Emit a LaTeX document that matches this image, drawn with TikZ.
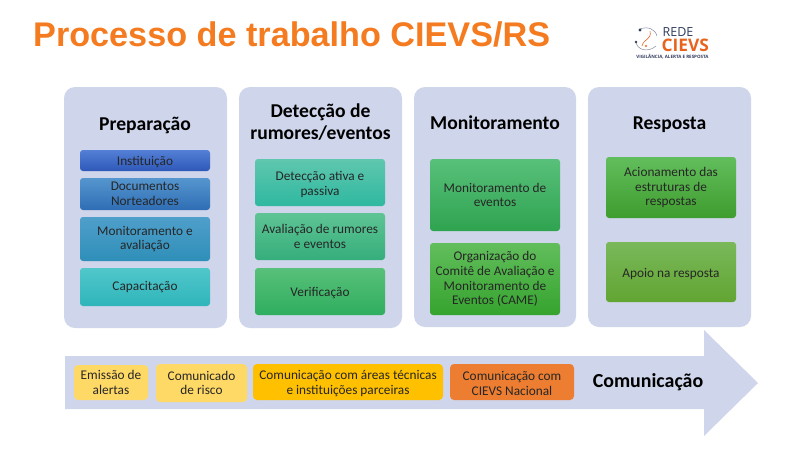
\documentclass[tikz,border=0pt]{standalone}
\usepackage{fontspec}
\setmainfont{Carlito}
\newfontfamily\headfont{Liberation Sans}
\newfontfamily\logofont{Open Sans}
\definecolor{panel}{HTML}{CFD5EA}
\definecolor{heador}{HTML}{F47B20}
\definecolor{boxor}{HTML}{ED7D31}
\definecolor{logonavy}{HTML}{2F3A5C}
\definecolor{logoor}{HTML}{E8641E}
\definecolor{yel}{HTML}{FFD966}
\definecolor{amb}{HTML}{FFC000}
\definecolor{HighA}{HTML}{5480D6}\definecolor{LowA}{HTML}{2E58B8}
\definecolor{HighB}{HTML}{5596CE}\definecolor{LowB}{HTML}{2F6DB5}
\definecolor{HighC}{HTML}{4F9FCB}\definecolor{LowC}{HTML}{2E8FB8}
\definecolor{HighD}{HTML}{50C7CB}\definecolor{LowD}{HTML}{2FB5BA}
\definecolor{HighE}{HTML}{5FC7AE}\definecolor{LowE}{HTML}{2FB8A0}
\definecolor{HighF}{HTML}{5FC495}\definecolor{LowF}{HTML}{35AE7B}
\definecolor{HighG}{HTML}{58C07A}\definecolor{LowG}{HTML}{2FAE5E}
\definecolor{LowH}{HTML}{2FA350}
\definecolor{HighI}{HTML}{62BE5C}\definecolor{LowI}{HTML}{35A32E}
\definecolor{LowJ}{HTML}{3F9C2E}
\definecolor{HighK}{HTML}{7AB85A}\definecolor{LowK}{HTML}{62A532}
\tikzset{
 panelbox/.style={fill=panel,rounded corners=11pt,draw=none,inner sep=0pt},
 inner/.style={rounded corners=3pt,draw=none,align=center,text=black!85,font=\fontsize{13.3}{14.7}\selectfont,inner sep=0pt},
 flat/.style={rounded corners=4pt,draw=none,align=center,text=black!85,font=\fontsize{13.3}{14.7}\selectfont,inner sep=0pt},
 head/.style={align=center,text=black,font=\bfseries\fontsize{19.6}{22}\selectfont,inner sep=0pt},
 headb/.style={head,anchor=base},
}
\newcommand{\gbox}[8]{%
 \node[inner,top color=#6,bottom color=#7,minimum width={(#4-#2)*1pt},minimum height={(#5-#3)*1pt}] (#1) at ({(#2+#4)/2},{-(#3+#5)/2}) {#8};}
\newcommand{\plainbox}[7]{%
 \node[flat,fill=#6,minimum width={(#4-#2)*1pt},minimum height={(#5-#3)*1pt}] (#1) at ({(#2+#4)/2},{-(#3+#5)/2}) {#7};}
\newcommand{\panelb}[5]{%
 \node[panelbox,minimum width={(#4-#2)*1pt},minimum height={(#5-#3)*1pt}] (#1) at ({(#2+#4)/2},{-(#3+#5)/2}) {};}
\newcommand{\lowr}{\rule{0pt}{12.5pt}}
\begin{document}
\begin{tikzpicture}[x=1pt,y=1pt]
\useasboundingbox (0,0) rectangle (800,-448);
\node[anchor=west,inner sep=0pt,text=heador,font=\headfont\bfseries\fontsize{34.2}{38}\selectfont] (title) at (33,-34) {Processo de trabalho CIEVS/RS};

% logo
\draw[logonavy!60,line width=0.5pt] (640,-29) .. controls (648,-26) and (655,-29) .. (657,-36);
\draw[logonavy!60,line width=0.5pt] (636,-42) .. controls (637,-50) and (648,-53) .. (656,-46);
\draw[logoor,line width=0.6pt] (642,-46) .. controls (644,-38) and (652,-40) .. (650,-31);
\fill[logonavy] (640,-30) circle (1.7);
\fill[logonavy] (636,-42) circle (1.3);
\fill[logoor] (646,-46) circle (1.2);
\node[anchor=west,inner sep=0pt,text=logonavy,font=\logofont\fontsize{12.5}{12}\selectfont] (rede) at (662.5,-32) {REDE};
\node[anchor=west,inner sep=0pt,text=logoor,font=\logofont\bfseries\fontsize{17.3}{17}\selectfont] (cievs) at (661.5,-45) {CIEVS};
\node[anchor=center,inner sep=0pt,text=logonavy,font=\logofont\bfseries\fontsize{4.5}{5}\selectfont] (tag) at (672.5,-57) {VIGILÂNCIA, ALERTA E RESPOSTA};

% panels
\panelb{p1}{64}{87}{227}{328}
\panelb{p2}{239}{87}{402}{328}
\panelb{p3}{414}{87}{576}{327}
\panelb{p4}{588}{87}{751}{327}

\node[headb] (h1) at (145,-130) {Preparação};
\node[head] (h2) at (320.5,-122.5) {Detecção de\\rumores/eventos};
\node[headb] (h3) at (495,-129.5) {Monitoramento};
\node[headb] (h4) at (669.5,-129.5) {Resposta};

\gbox{a1}{80}{150}{210}{171}{HighA}{LowA}{\lowr Instituição}
\gbox{a2}{80}{178}{210}{210}{HighB}{LowB}{Documentos\\Norteadores}
\gbox{a3}{80}{217}{210}{261}{HighC}{LowC}{Monitoramento e\\avaliação}
\gbox{a4}{80}{268}{210}{306}{HighD}{LowD}{Capacitação}

\gbox{b1}{255}{159}{385}{206}{HighE}{LowE}{\lowr Detecção ativa e\\passiva}
\gbox{b2}{255}{213}{385}{260}{HighF}{LowF}{Avaliação de rumores\\e eventos}
\gbox{b3}{255}{268}{385}{315}{HighG}{LowG}{\lowr Verificação}

\gbox{c1}{430}{159}{560}{231}{HighG}{LowH}{Monitoramento de\\eventos}
\gbox{c2}{430}{243}{560}{315}{HighI}{LowI}{Organização do\\Comitê de Avaliação e\\Monitoramento de\\Eventos (CAME)}

\gbox{d1}{606}{157}{736}{218}{HighI}{LowJ}{Acionamento das\\estruturas de\\respostas}
\gbox{d2}{606}{242}{736}{302}{HighK}{LowK}{\lowr Apoio na resposta}

% arrow
\fill[panel] (65,-356) -- (704,-356) -- (704,-330) -- (758,-383) -- (704,-436) -- (704,-409) -- (65,-409) -- cycle;

\plainbox{e1}{74}{365}{148}{400}{yel}{Emissão de\\alertas}
\plainbox{e2}{156}{364}{247}{402}{yel}{Comunicado\\de risco}
\plainbox{e3}{253}{364}{443}{400}{amb}{\lowr Comunicação com áreas técnicas\\e instituições parceiras}
\plainbox{e4}{450}{364}{574}{400}{boxor}{\lowr Comunicação com\\CIEVS Nacional}
\node[inner sep=0pt,text=black,font=\bfseries\fontsize{19.9}{22}\selectfont] (com) at (648,-382) {Comunicação};
\end{tikzpicture}
\end{document}
